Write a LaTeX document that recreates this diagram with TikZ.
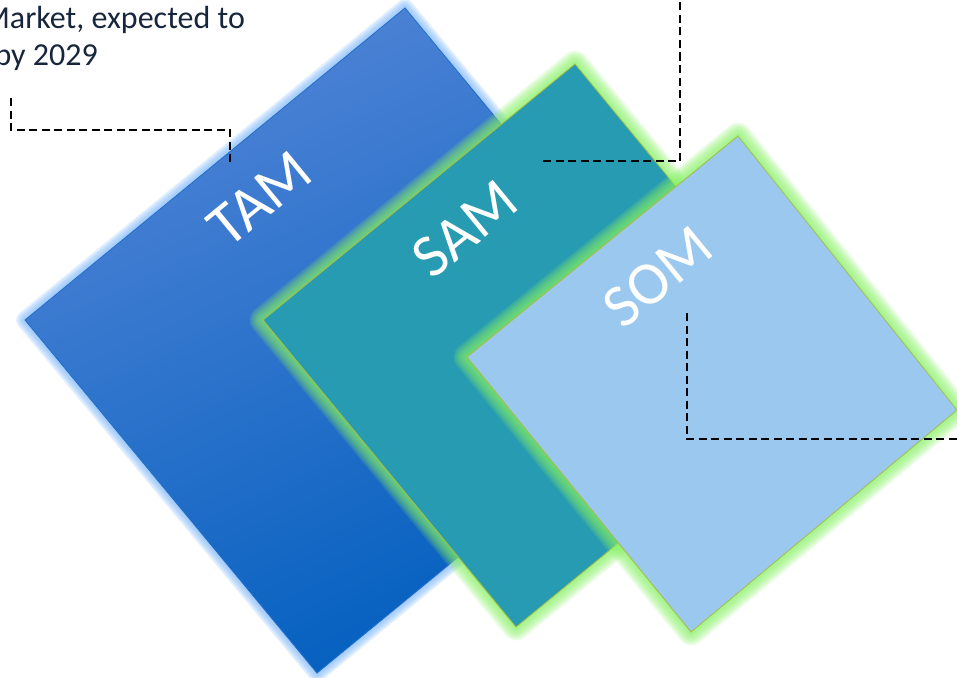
\documentclass[tikz,border=0pt]{standalone}
\usepackage{fontspec}
\setmainfont{Carlito}
\definecolor{tamtop}{RGB}{80,132,214}
\definecolor{tambot}{RGB}{0,94,190}
\definecolor{tamedge}{RGB}{35,110,200}
\definecolor{tamglow}{RGB}{130,185,250}
\definecolor{samfill}{RGB}{38,155,178}
\definecolor{somfill}{RGB}{155,200,238}
\definecolor{edgegreen}{RGB}{165,190,70}
\definecolor{glowgreen}{RGB}{135,240,100}
\definecolor{navytext}{RGB}{23,38,60}
\begin{document}
\begin{tikzpicture}[x=1pt,y=-1pt,
  lbl/.style={text=white,font=\fontsize{61}{63}\selectfont,inner sep=0pt,rotate=39.4},
  callout/.style={draw=black,line width=2.2pt,dash pattern=on 8pt off 4.5pt},
  note/.style={text=navytext,font=\fontsize{32}{38}\selectfont,inner sep=0pt}]
\useasboundingbox (0,0) rectangle (957,677);
% corner coordinates
\coordinate (t1) at (405,8);   \coordinate (t2) at (697,361);
\coordinate (t3) at (317,673); \coordinate (t4) at (25,320);
\coordinate (s1) at (575,64);  \coordinate (s2) at (828,371);
\coordinate (s3) at (516,627); \coordinate (s4) at (263,320);
\coordinate (o1) at (738,136); \coordinate (o2) at (957,410);
\coordinate (o3) at (691,632); \coordinate (o4) at (467,357);
% TAM
\foreach \w in {3,6,9,12,15,18} \draw[tamglow,line width=\w pt,draw opacity=0.2,line join=round] (t1)--(t2)--(t3)--(t4)--cycle;
\shade[top color=tamtop,bottom color=tambot,shading angle=25] (t1)--(t2)--(t3)--(t4)--cycle;
\draw[tamedge,line width=0.8pt] (t1)--(t2)--(t3)--(t4)--cycle;
% SAM
\foreach \w in {3,6,9,12,15,18,21,24,27} \draw[glowgreen,line width=\w pt,draw opacity=0.14,line join=round] (s1)--(s2)--(s3)--(s4)--cycle;
\fill[samfill] (s1)--(s2)--(s3)--(s4)--cycle;
\draw[edgegreen,line width=0.8pt] (s1)--(s2)--(s3)--(s4)--cycle;
% SOM
\foreach \w in {3,6,9,12,15,18,21,24,27} \draw[glowgreen,line width=\w pt,draw opacity=0.14,line join=round] (o1)--(o2)--(o3)--(o4)--cycle;
\fill[somfill] (o1)--(o2)--(o3)--(o4)--cycle;
\draw[edgegreen,line width=0.8pt] (o1)--(o2)--(o3)--(o4)--cycle;
% labels
\node[lbl] (tam) at (260,199) {TAM};
\node[lbl] (sam) at (465,229) {SAM};
\node[lbl] (som) at (658,277) {SOM};
% note text
\node[note,anchor=base east] (noteA) at (245,29) {Market, expected to};
\node[note,anchor=base east] (noteB) at (98,65) {by 2029};
% callouts
\coordinate (c1a) at (230,162); \coordinate (c1b) at (11,97);
\draw[callout] (c1a) -- (230,130) -| (c1b);
\coordinate (c2a) at (543,161); \coordinate (c2b) at (680,0);
\draw[callout] (c2a) -| (c2b);
\coordinate (c3a) at (687,313); \coordinate (c3b) at (957,439);
\draw[callout] (c3a) |- (c3b);
\end{tikzpicture}
\end{document}
